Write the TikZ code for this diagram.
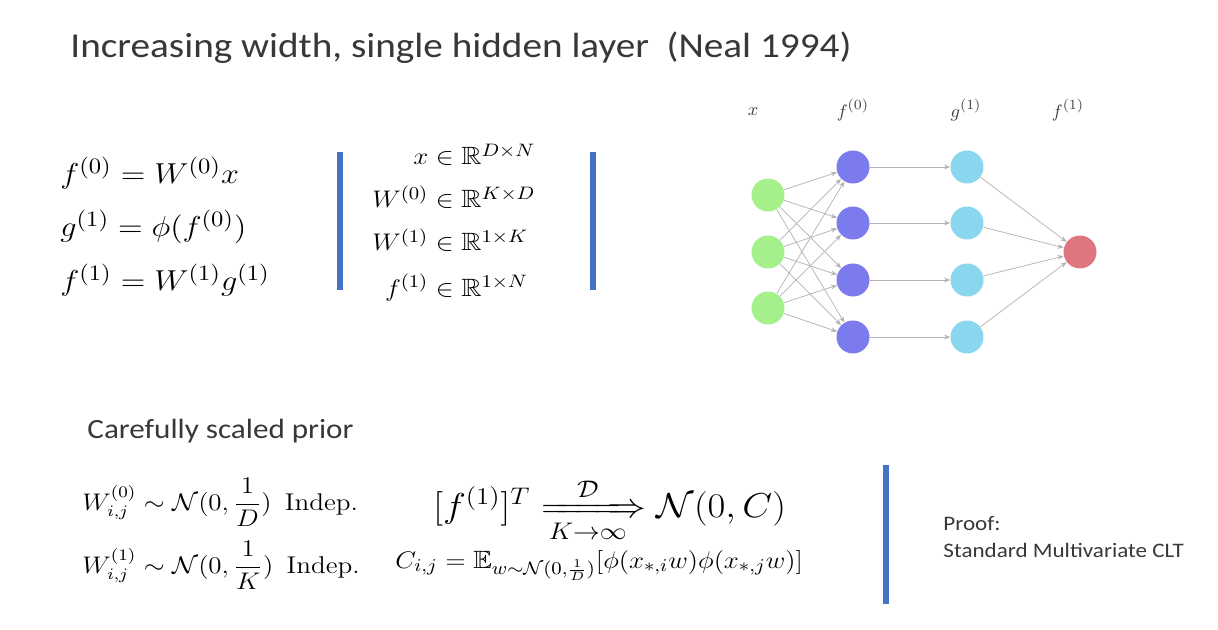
\documentclass[tikz,border=0pt]{standalone}
\usepackage{amsmath,amssymb,mathtools}
\usepackage{fontspec}
\newfontfamily\slidefont{Carlito}
\usetikzlibrary{arrows.meta}
\definecolor{barblue}{RGB}{68,114,196}
\definecolor{ingreen}{RGB}{166,240,140}
\definecolor{hidpurple}{RGB}{123,123,238}
\definecolor{actcyan}{RGB}{138,214,238}
\definecolor{outred}{RGB}{222,118,128}
\begin{document}
\begin{tikzpicture}[x=0.5pt,y=-0.5pt,
  neuron/.style={circle,minimum size=16.5pt,inner sep=0pt},
  wire/.style={draw=black!30,line width=0.35pt,-{Stealth[length=3pt,width=2.4pt]}},
  txt/.style={anchor=base west,inner sep=0pt,xscale=1.12},
  slide/.style={txt,text=black!78,font=\slidefont\fontsize{#1}{#1}\selectfont},
  eq/.style={txt,font=\fontsize{#1}{#1}\selectfont},
  netlabel/.style={inner sep=0pt,text=black!75,font=\fontsize{9.5}{10}\selectfont}]
\fill[white] (0,0) rectangle (1218,630);
\useasboundingbox (0,0) rectangle (1218,630);
\node[slide=17.5] (title) at (70,58) {Increasing width, single hidden layer\ \ (Neal 1994)};
\node[eq=15.3] (eqa) at (60,184) {$f^{(0)} = W^{(0)}x$};
\node[eq=15.3] (eqb) at (60,237) {$g^{(1)} = \phi(f^{(0)})$};
\node[eq=15.3] (eqc) at (60,291) {$f^{(1)} = W^{(1)}g^{(1)}$};
\fill[barblue] (337,152) rectangle (343,290);
\node[eq=12.5] (dima) at (428,165) {$\llap{$x$}\in\mathbb{R}^{D\times N}$};
\node[eq=12.5] (dimb) at (428,208) {$\llap{$W^{(0)}$}\in\mathbb{R}^{K\times D}$};
\node[eq=12.5] (dimc) at (428,251) {$\llap{$W^{(1)}$}\in\mathbb{R}^{1\times K}$};
\node[eq=12.5] (dimd) at (428,296) {$\llap{$f^{(1)}$}\in\mathbb{R}^{1\times N}$};
\fill[barblue] (590,152) rectangle (596,290);
\node[netlabel] (lx) at (753,112) {$x$};
\node[netlabel] (lf0) at (853,110) {$f^{(0)}$};
\node[netlabel] (lg1) at (966,110) {$g^{(1)}$};
\node[netlabel] (lf1) at (1068,110) {$f^{(1)}$};
\foreach \i/\y in {0/195,1/252,2/308}
  \node[neuron,fill=ingreen] (in\i) at (768,\y) {};
\foreach \i/\y in {0/167,1/223,2/280,3/337} {
  \node[neuron,fill=hidpurple] (h\i) at (853,\y) {};
  \node[neuron,fill=actcyan] (g\i) at (967,\y) {};
}
\node[neuron,fill=outred] (out) at (1080,252) {};
\foreach \i in {0,1,2}
  \foreach \j in {0,...,3}
    \draw[wire] (in\i) -- (h\j);
\foreach \j in {0,...,3} {
  \draw[wire] (h\j) -- (g\j);
  \draw[wire] (g\j) -- (out);
}
\node[slide=13.9] (prior) at (87,438) {Carefully scaled prior};
\node[eq=12.1] (wa) at (82,510) {$W^{(0)}_{i,j}\sim\mathcal{N}(0,\dfrac{1}{D})$\ \,Indep.};
\node[eq=12.1] (wb) at (82,573) {$W^{(1)}_{i,j}\sim\mathcal{N}(0,\dfrac{1}{K})$\ \,Indep.};
\node[eq=17] (limit) at (433,517) {$[f^{(1)}]^T\xRightarrow[K\to\infty]{\mathcal{D}}\mathcal{N}(0,C)$};
\node[eq=12.5] (cov) at (395,568) {$C_{i,j}=\mathbb{E}_{w\sim\mathcal{N}(0,\frac{1}{D})}[\phi(x_{*,i}w)\phi(x_{*,j}w)]$};
\fill[barblue] (883,465) rectangle (889,604);
\node[slide=10.3] (proofhead) at (943,530) {Proof:};
\node[slide=10.3] (proofbody) at (943,557) {Standard Multivariate CLT};
\end{tikzpicture}
\end{document}
